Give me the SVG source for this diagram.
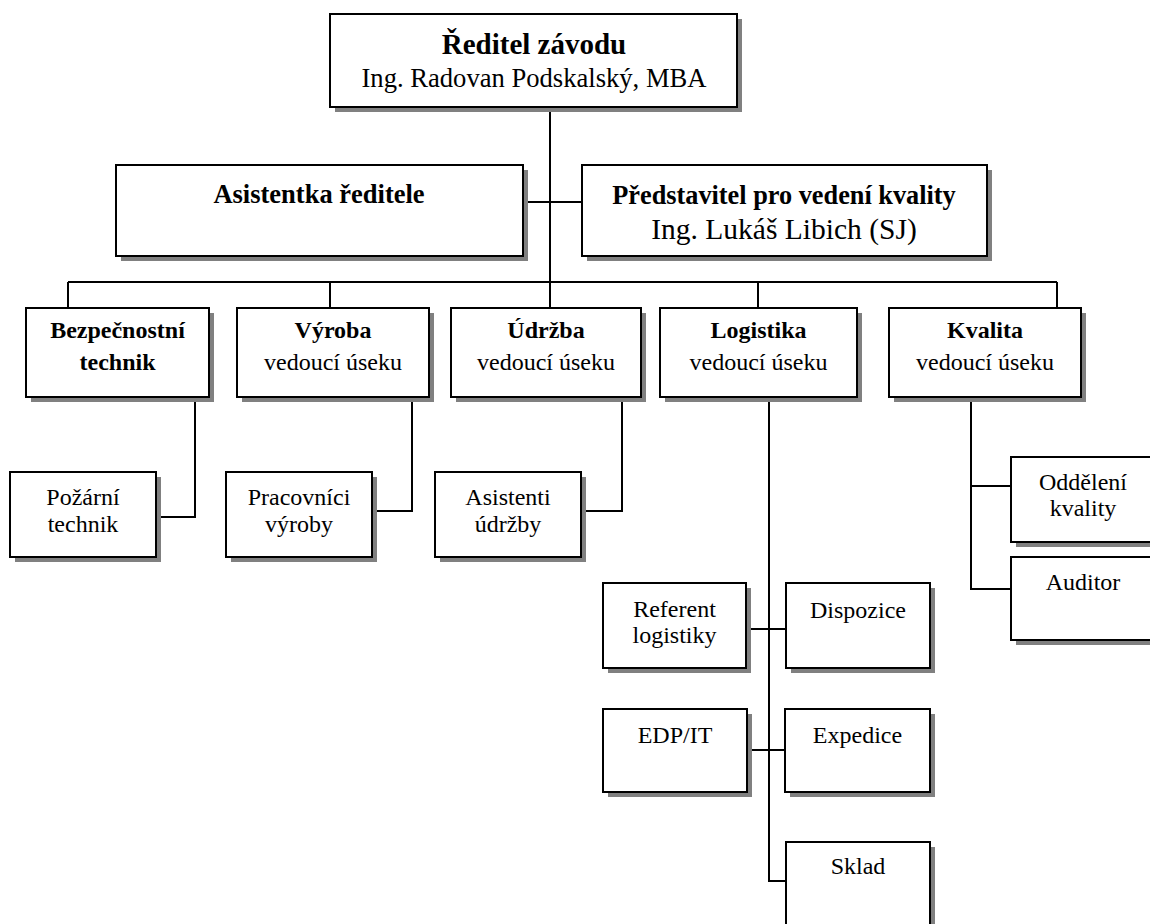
<svg xmlns="http://www.w3.org/2000/svg" width="1150" height="924" viewBox="0 0 1150 924">
  <style>
    .box { fill: #ffffff; stroke: #000000; stroke-width: 2; }
    .sh { fill: #808080; }
    .ln { fill: none; stroke: #000000; stroke-width: 2; }
    text { font-family: "Liberation Serif", "Times New Roman", serif; fill: #000000; text-anchor: middle; }
    .b { font-weight: bold; }
    .t24 { font-size: 24px; }
  </style>
  <rect width="1150" height="924" fill="#ffffff"/>

  <!-- connectors -->
  <g id="connectors">
    <path class="ln" d="M550 107 V308"/>
    <path class="ln" d="M523 202 H582"/>
    <path class="ln" d="M68 282 H1057"/>
    <path class="ln" d="M68 282 V308 M330 282 V308 M758 282 V308 M1057 282 V308"/>
    <path class="ln" d="M195 397 V517 H156"/>
    <path class="ln" d="M412 397 V511 H372"/>
    <path class="ln" d="M622 397 V511 H581"/>
    <path class="ln" d="M769 397 V881 H786"/>
    <path class="ln" d="M746 629 H786"/>
    <path class="ln" d="M747 750 H785"/>
    <path class="ln" d="M971 397 V589 H1011"/>
    <path class="ln" d="M971 486 H1011"/>
  </g>

  <!-- top level -->
  <g id="reditel">
    <rect class="sh" x="335" y="19" width="407" height="93"/>
    <rect class="box" x="330" y="14" width="407" height="93"/>
    <text class="b" x="534" y="54" font-size="29">Ředitel závodu</text>
    <text x="534" y="87" font-size="26.6">Ing. Radovan Podskalský, MBA</text>
  </g>

  <!-- staff level -->
  <g id="asistentka">
    <rect class="sh" x="121" y="170" width="407" height="91"/>
    <rect class="box" x="116" y="165" width="407" height="91"/>
    <text class="b" x="319" y="203" font-size="26.5">Asistentka ředitele</text>
  </g>
  <g id="predstavitel">
    <rect class="sh" x="587" y="170" width="405" height="91"/>
    <rect class="box" x="582" y="165" width="405" height="91"/>
    <text class="b" x="784" y="204" font-size="26.3">Představitel pro vedení kvality</text>
    <text x="784" y="239" font-size="29.5">Ing. Lukáš Libich (SJ)</text>
  </g>

  <!-- departments -->
  <g id="bezpecnostni">
    <rect class="sh" x="31" y="313" width="183" height="89"/>
    <rect class="box" x="26" y="308" width="183" height="89"/>
    <text class="b t24" x="117.5" y="338">Bezpečnostní</text>
    <text class="b t24" x="117.5" y="370">technik</text>
  </g>
  <g id="vyroba">
    <rect class="sh" x="242" y="313" width="192" height="89"/>
    <rect class="box" x="237" y="308" width="192" height="89"/>
    <text class="b t24" x="333" y="338">Výroba</text>
    <text class="t24" x="333" y="370">vedoucí úseku</text>
  </g>
  <g id="udrzba">
    <rect class="sh" x="456" y="313" width="190" height="89"/>
    <rect class="box" x="451" y="308" width="190" height="89"/>
    <text class="b t24" x="546" y="338">Údržba</text>
    <text class="t24" x="546" y="370">vedoucí úseku</text>
  </g>
  <g id="logistika">
    <rect class="sh" x="665" y="313" width="197" height="89"/>
    <rect class="box" x="660" y="308" width="197" height="89"/>
    <text class="b t24" x="758.5" y="338">Logistika</text>
    <text class="t24" x="758.5" y="370">vedoucí úseku</text>
  </g>
  <g id="kvalita">
    <rect class="sh" x="894" y="313" width="192" height="89"/>
    <rect class="box" x="889" y="308" width="192" height="89"/>
    <text class="b t24" x="985" y="338">Kvalita</text>
    <text class="t24" x="985" y="370">vedoucí úseku</text>
  </g>

  <!-- sections -->
  <g id="pozarni">
    <rect class="sh" x="15" y="477" width="146" height="85"/>
    <rect class="box" x="10" y="472" width="146" height="85"/>
    <text class="t24" x="83" y="505">Požární</text>
    <text class="t24" x="83" y="532">technik</text>
  </g>
  <g id="pracovnici">
    <rect class="sh" x="231" y="477" width="146" height="85"/>
    <rect class="box" x="226" y="472" width="146" height="85"/>
    <text class="t24" x="299" y="505">Pracovníci</text>
    <text class="t24" x="299" y="532">výroby</text>
  </g>
  <g id="asistenti">
    <rect class="sh" x="440" y="477" width="146" height="85"/>
    <rect class="box" x="435" y="472" width="146" height="85"/>
    <text class="t24" x="508" y="505">Asistenti</text>
    <text class="t24" x="508" y="532">údržby</text>
  </g>
  <g id="oddeleni">
    <rect class="sh" x="1016" y="462" width="144" height="85"/>
    <rect class="box" x="1011" y="457" width="144" height="85"/>
    <text class="t24" x="1083" y="490">Oddělení</text>
    <text class="t24" x="1083" y="516">kvality</text>
  </g>
  <g id="auditor">
    <rect class="sh" x="1016" y="562" width="144" height="83"/>
    <rect class="box" x="1011" y="557" width="144" height="83"/>
    <text class="t24" x="1083" y="590">Auditor</text>
  </g>
  <g id="referent">
    <rect class="sh" x="608" y="588" width="143" height="85"/>
    <rect class="box" x="603" y="583" width="143" height="85"/>
    <text class="t24" x="674.5" y="617">Referent</text>
    <text class="t24" x="674.5" y="643">logistiky</text>
  </g>
  <g id="dispozice">
    <rect class="sh" x="791" y="588" width="144" height="85"/>
    <rect class="box" x="786" y="583" width="144" height="85"/>
    <text class="t24" x="858" y="618">Dispozice</text>
  </g>
  <g id="edp">
    <rect class="sh" x="608" y="714" width="144" height="83"/>
    <rect class="box" x="603" y="709" width="144" height="83"/>
    <text class="t24" x="675" y="743">EDP/IT</text>
  </g>
  <g id="expedice">
    <rect class="sh" x="790" y="714" width="145" height="83"/>
    <rect class="box" x="785" y="709" width="145" height="83"/>
    <text class="t24" x="857.5" y="743">Expedice</text>
  </g>
  <g id="sklad">
    <rect class="sh" x="791" y="847" width="144" height="85"/>
    <rect class="box" x="786" y="842" width="144" height="85"/>
    <text class="t24" x="858" y="874">Sklad</text>
  </g>
</svg>
